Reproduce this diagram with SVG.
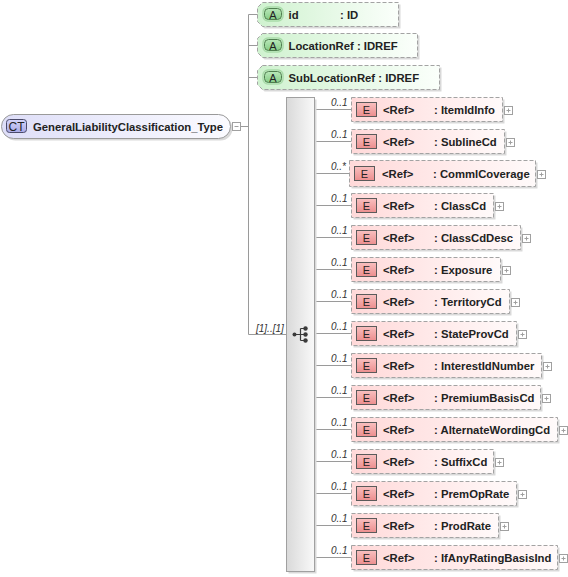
<svg xmlns="http://www.w3.org/2000/svg" width="568" height="577" viewBox="0 0 568 577">
<defs>
<linearGradient id="gE" x1="0" y1="0" x2="1" y2="0"><stop offset="0" stop-color="#ffd9d9"/><stop offset="1" stop-color="#fffafa"/></linearGradient>
<linearGradient id="gEb" x1="0" y1="0" x2="0" y2="1"><stop offset="0" stop-color="#f9c0c0"/><stop offset="1" stop-color="#ec8e8e"/></linearGradient>
<linearGradient id="gA" x1="0" y1="0" x2="1" y2="0"><stop offset="0" stop-color="#cff2cf"/><stop offset="1" stop-color="#fbfffb"/></linearGradient>
<linearGradient id="gAb" x1="0" y1="0" x2="0" y2="1"><stop offset="0" stop-color="#b9e8b9"/><stop offset="1" stop-color="#86cc86"/></linearGradient>
<linearGradient id="gCT" x1="0" y1="0" x2="1" y2="0"><stop offset="0" stop-color="#dedef8"/><stop offset="1" stop-color="#fbfbff"/></linearGradient>
<linearGradient id="gCTb" x1="0" y1="0" x2="0" y2="1"><stop offset="0" stop-color="#d6d6fa"/><stop offset="1" stop-color="#a9a9e6"/></linearGradient>
<linearGradient id="gS" x1="0" y1="0" x2="1" y2="0"><stop offset="0" stop-color="#d9d9d9"/><stop offset="1" stop-color="#f9f9f9"/></linearGradient>
</defs>
<style>
.ln{fill:none;stroke:#9a9a9a;stroke-width:1}
.sh{fill:#d9d9d9;stroke:none}
.ebox{fill:url(#gE);stroke:#a3a3a3;stroke-width:1;stroke-dasharray:4,2}
.eb{fill:url(#gEb);stroke:#5a5a5a;stroke-width:1}
.abox{fill:url(#gA);stroke:#a3a3a3;stroke-width:1;stroke-dasharray:4,2}
.ab{fill:url(#gAb);stroke:#4f7f4f;stroke-width:1}
.ah{fill:none;stroke:#a9dca9;stroke-width:1.5}
.t{font-family:"Liberation Sans",Arial,sans-serif;font-size:11.3px;font-weight:bold;fill:#222}
.bt{font-family:"Liberation Sans",Arial,sans-serif;font-size:11px;fill:#222}
.m{font-family:"Liberation Sans",Arial,sans-serif;font-size:10px;font-style:italic;fill:#333}
.pl{fill:#fff;stroke:#a0a0a0;stroke-width:1}
.px{fill:none;stroke:#a0a0a0;stroke-width:1}
.ic{fill:#3a3a3a}
.icl{fill:none;stroke:#3a3a3a;stroke-width:1.2}
</style>

<g id="connectors">
<path class="ln" d="M240.5 126.5H248.5M248.5 14.5V334.5M248.5 14.5H258M248.5 45.5H258M248.5 77.5H258M248.5 334.5H286"/>
<path class="ln" d="M315 109.5H351M315 141.5H351M315 173.5H349M315 205.5H351M315 237.5H351M315 269.5H351M315 301.5H351M315 333.5H351M315 365.5H351M315 397.5H351M315 429.5H351M315 461.5H351M315 493.5H351M315 525.5H351M315 557.5H351"/>
<text class="m" x="256" y="331.5">[1]..[1]</text>
<text class="m" x="331" y="105.5">0..1</text>
<text class="m" x="331" y="137.5">0..1</text>
<text class="m" x="331" y="169.5">0..*</text>
<text class="m" x="331" y="201.5">0..1</text>
<text class="m" x="331" y="233.5">0..1</text>
<text class="m" x="331" y="265.5">0..1</text>
<text class="m" x="331" y="297.5">0..1</text>
<text class="m" x="331" y="329.5">0..1</text>
<text class="m" x="331" y="361.5">0..1</text>
<text class="m" x="331" y="393.5">0..1</text>
<text class="m" x="331" y="425.5">0..1</text>
<text class="m" x="331" y="457.5">0..1</text>
<text class="m" x="331" y="489.5">0..1</text>
<text class="m" x="331" y="521.5">0..1</text>
<text class="m" x="331" y="553.5">0..1</text>
</g>

<g id="node-ct">
<rect class="sh" x="3.5" y="116.5" width="229" height="24" rx="12"/>
<rect x="1.5" y="114.5" width="229" height="24" rx="12" fill="url(#gCT)" stroke="#9a9a9a"/>
<rect x="6.5" y="119.5" width="20" height="13" rx="3" fill="url(#gCTb)" stroke="#4a4a6a"/>
<text class="bt" x="16.5" y="130.5" text-anchor="middle" style="font-size:12px">CT</text>
<text class="t" x="33" y="131">GeneralLiabilityClassification_Type</text>
<rect class="pl" x="232.5" y="122.5" width="8" height="8"/>
<path class="px" d="M234.5 126.5H238.5"/>
</g>

<g id="attr-id" transform="translate(0,14.5)">
<path class="sh" d="M264.5 -10H400.5V14H264.5L259.5 9V-5Z"/>
<path class="abox" d="M262.5 -12H398.5V12H262.5L257.5 7V-7Z"/>
<rect class="ah" x="263" y="-7.5" width="20" height="14" rx="5"/>
<rect class="ab" x="264.5" y="-6" width="17" height="11" rx="4"/>
<text class="bt" x="273" y="4" text-anchor="middle">A</text>
<text class="t" x="288.5" y="4">id</text>
<text class="t" x="340" y="4">: ID</text>
</g>
<g id="attr-locationref" transform="translate(0,45.5)">
<path class="sh" d="M264.5 -10H419.5V14H264.5L259.5 9V-5Z"/>
<path class="abox" d="M262.5 -12H417.5V12H262.5L257.5 7V-7Z"/>
<rect class="ah" x="263" y="-7.5" width="20" height="14" rx="5"/>
<rect class="ab" x="264.5" y="-6" width="17" height="11" rx="4"/>
<text class="bt" x="273" y="4" text-anchor="middle">A</text>
<text class="t" x="288.5" y="4">LocationRef : IDREF</text>
</g>
<g id="attr-sublocationref" transform="translate(0,77.5)">
<path class="sh" d="M264.5 -10H441.5V14H264.5L259.5 9V-5Z"/>
<path class="abox" d="M262.5 -12H439.5V12H262.5L257.5 7V-7Z"/>
<rect class="ah" x="263" y="-7.5" width="20" height="14" rx="5"/>
<rect class="ab" x="264.5" y="-6" width="17" height="11" rx="4"/>
<text class="bt" x="273" y="4" text-anchor="middle">A</text>
<text class="t" x="288.5" y="4">SubLocationRef : IDREF</text>
</g>

<g id="sequence">
<rect class="sh" x="288.5" y="99.5" width="28" height="474"/>
<rect x="286.5" y="97.5" width="28" height="474" fill="url(#gS)" stroke="#a0a0a0"/>
<circle class="ic" cx="294.5" cy="334.5" r="2"/>
<path class="icl" d="M294.5 334.5H300.5M300.5 328.5V340.5M300.5 328.5H305M300.5 334.5H305M300.5 340.5H305"/>
<circle class="ic" cx="305.5" cy="328.5" r="2.2"/>
<circle class="ic" cx="305.5" cy="334.5" r="2.2"/>
<circle class="ic" cx="305.5" cy="340.5" r="2.2"/>
</g>

<g id="el-itemidinfo" transform="translate(0,109.5)">
<rect class="sh" x="353.5" y="-10" width="151" height="24"/>
<rect class="ebox" x="351.5" y="-12" width="151" height="24"/>
<rect class="eb" x="356.5" y="-7" width="20" height="14"/>
<text class="bt" x="366.5" y="4" text-anchor="middle">E</text>
<text class="t" x="383" y="4">&lt;Ref&gt;</text>
<text class="t" x="434" y="4">: ItemIdInfo</text>
<rect class="pl" x="504.5" y="-3" width="8" height="8"/><path class="px" d="M506.5 1H510.5M508.5 -1V3"/>
</g>
<g id="el-sublinecd" transform="translate(0,141.5)">
<rect class="sh" x="353.5" y="-10" width="153" height="24"/>
<rect class="ebox" x="351.5" y="-12" width="153" height="24"/>
<rect class="eb" x="356.5" y="-7" width="20" height="14"/>
<text class="bt" x="366.5" y="4" text-anchor="middle">E</text>
<text class="t" x="383" y="4">&lt;Ref&gt;</text>
<text class="t" x="434" y="4">: SublineCd</text>
<rect class="pl" x="506.5" y="-3" width="8" height="8"/><path class="px" d="M508.5 1H512.5M510.5 -1V3"/>
</g>
<g id="el-commlcoverage" transform="translate(0,173.5)">
<rect class="sh" x="351.5" y="-11" width="186" height="26"/>
<rect class="ebox" x="349.5" y="-13" width="186" height="26"/>
<rect class="eb" x="354.5" y="-7" width="20" height="14"/>
<text class="bt" x="364.5" y="4" text-anchor="middle">E</text>
<text class="t" x="382" y="4">&lt;Ref&gt;</text>
<text class="t" x="433" y="4">: CommlCoverage</text>
<rect class="pl" x="537.5" y="-3" width="8" height="8"/><path class="px" d="M539.5 1H543.5M541.5 -1V3"/>
</g>
<g id="el-classcd" transform="translate(0,205.5)">
<rect class="sh" x="353.5" y="-10" width="142" height="24"/>
<rect class="ebox" x="351.5" y="-12" width="142" height="24"/>
<rect class="eb" x="356.5" y="-7" width="20" height="14"/>
<text class="bt" x="366.5" y="4" text-anchor="middle">E</text>
<text class="t" x="383" y="4">&lt;Ref&gt;</text>
<text class="t" x="434" y="4">: ClassCd</text>
<rect class="pl" x="495.5" y="-3" width="8" height="8"/><path class="px" d="M497.5 1H501.5M499.5 -1V3"/>
</g>
<g id="el-classcddesc" transform="translate(0,237.5)">
<rect class="sh" x="353.5" y="-10" width="169" height="24"/>
<rect class="ebox" x="351.5" y="-12" width="169" height="24"/>
<rect class="eb" x="356.5" y="-7" width="20" height="14"/>
<text class="bt" x="366.5" y="4" text-anchor="middle">E</text>
<text class="t" x="383" y="4">&lt;Ref&gt;</text>
<text class="t" x="434" y="4">: ClassCdDesc</text>
<rect class="pl" x="522.5" y="-3" width="8" height="8"/><path class="px" d="M524.5 1H528.5M526.5 -1V3"/>
</g>
<g id="el-exposure" transform="translate(0,269.5)">
<rect class="sh" x="353.5" y="-10" width="149" height="24"/>
<rect class="ebox" x="351.5" y="-12" width="149" height="24"/>
<rect class="eb" x="356.5" y="-7" width="20" height="14"/>
<text class="bt" x="366.5" y="4" text-anchor="middle">E</text>
<text class="t" x="383" y="4">&lt;Ref&gt;</text>
<text class="t" x="434" y="4">: Exposure</text>
<rect class="pl" x="502.5" y="-3" width="8" height="8"/><path class="px" d="M504.5 1H508.5M506.5 -1V3"/>
</g>
<g id="el-territorycd" transform="translate(0,301.5)">
<rect class="sh" x="353.5" y="-10" width="158" height="24"/>
<rect class="ebox" x="351.5" y="-12" width="158" height="24"/>
<rect class="eb" x="356.5" y="-7" width="20" height="14"/>
<text class="bt" x="366.5" y="4" text-anchor="middle">E</text>
<text class="t" x="383" y="4">&lt;Ref&gt;</text>
<text class="t" x="434" y="4">: TerritoryCd</text>
<rect class="pl" x="511.5" y="-3" width="8" height="8"/><path class="px" d="M513.5 1H517.5M515.5 -1V3"/>
</g>
<g id="el-stateprovcd" transform="translate(0,333.5)">
<rect class="sh" x="353.5" y="-10" width="165" height="24"/>
<rect class="ebox" x="351.5" y="-12" width="165" height="24"/>
<rect class="eb" x="356.5" y="-7" width="20" height="14"/>
<text class="bt" x="366.5" y="4" text-anchor="middle">E</text>
<text class="t" x="383" y="4">&lt;Ref&gt;</text>
<text class="t" x="434" y="4">: StateProvCd</text>
<rect class="pl" x="518.5" y="-3" width="8" height="8"/><path class="px" d="M520.5 1H524.5M522.5 -1V3"/>
</g>
<g id="el-interestidnumber" transform="translate(0,365.5)">
<rect class="sh" x="353.5" y="-10" width="190" height="24"/>
<rect class="ebox" x="351.5" y="-12" width="190" height="24"/>
<rect class="eb" x="356.5" y="-7" width="20" height="14"/>
<text class="bt" x="366.5" y="4" text-anchor="middle">E</text>
<text class="t" x="383" y="4">&lt;Ref&gt;</text>
<text class="t" x="434" y="4">: InterestIdNumber</text>
<rect class="pl" x="543.5" y="-3" width="8" height="8"/><path class="px" d="M545.5 1H549.5M547.5 -1V3"/>
</g>
<g id="el-premiumbasiscd" transform="translate(0,397.5)">
<rect class="sh" x="353.5" y="-10" width="189" height="24"/>
<rect class="ebox" x="351.5" y="-12" width="189" height="24"/>
<rect class="eb" x="356.5" y="-7" width="20" height="14"/>
<text class="bt" x="366.5" y="4" text-anchor="middle">E</text>
<text class="t" x="383" y="4">&lt;Ref&gt;</text>
<text class="t" x="434" y="4">: PremiumBasisCd</text>
<rect class="pl" x="542.5" y="-3" width="8" height="8"/><path class="px" d="M544.5 1H548.5M546.5 -1V3"/>
</g>
<g id="el-alternatewordingcd" transform="translate(0,429.5)">
<rect class="sh" x="353.5" y="-10" width="206" height="24"/>
<rect class="ebox" x="351.5" y="-12" width="206" height="24"/>
<rect class="eb" x="356.5" y="-7" width="20" height="14"/>
<text class="bt" x="366.5" y="4" text-anchor="middle">E</text>
<text class="t" x="383" y="4">&lt;Ref&gt;</text>
<text class="t" x="434" y="4">: AlternateWordingCd</text>
<rect class="pl" x="559.5" y="-3" width="8" height="8"/><path class="px" d="M561.5 1H565.5M563.5 -1V3"/>
</g>
<g id="el-suffixcd" transform="translate(0,461.5)">
<rect class="sh" x="353.5" y="-10" width="142" height="24"/>
<rect class="ebox" x="351.5" y="-12" width="142" height="24"/>
<rect class="eb" x="356.5" y="-7" width="20" height="14"/>
<text class="bt" x="366.5" y="4" text-anchor="middle">E</text>
<text class="t" x="383" y="4">&lt;Ref&gt;</text>
<text class="t" x="434" y="4">: SuffixCd</text>
<rect class="pl" x="495.5" y="-3" width="8" height="8"/><path class="px" d="M497.5 1H501.5M499.5 -1V3"/>
</g>
<g id="el-premoprate" transform="translate(0,493.5)">
<rect class="sh" x="353.5" y="-10" width="165" height="24"/>
<rect class="ebox" x="351.5" y="-12" width="165" height="24"/>
<rect class="eb" x="356.5" y="-7" width="20" height="14"/>
<text class="bt" x="366.5" y="4" text-anchor="middle">E</text>
<text class="t" x="383" y="4">&lt;Ref&gt;</text>
<text class="t" x="434" y="4">: PremOpRate</text>
<rect class="pl" x="518.5" y="-3" width="8" height="8"/><path class="px" d="M520.5 1H524.5M522.5 -1V3"/>
</g>
<g id="el-prodrate" transform="translate(0,525.5)">
<rect class="sh" x="353.5" y="-10" width="147" height="24"/>
<rect class="ebox" x="351.5" y="-12" width="147" height="24"/>
<rect class="eb" x="356.5" y="-7" width="20" height="14"/>
<text class="bt" x="366.5" y="4" text-anchor="middle">E</text>
<text class="t" x="383" y="4">&lt;Ref&gt;</text>
<text class="t" x="434" y="4">: ProdRate</text>
<rect class="pl" x="500.5" y="-3" width="8" height="8"/><path class="px" d="M502.5 1H506.5M504.5 -1V3"/>
</g>
<g id="el-ifanyratingbasisind" transform="translate(0,557.5)">
<rect class="sh" x="353.5" y="-10" width="206" height="24"/>
<rect class="ebox" x="351.5" y="-12" width="206" height="24"/>
<rect class="eb" x="356.5" y="-7" width="20" height="14"/>
<text class="bt" x="366.5" y="4" text-anchor="middle">E</text>
<text class="t" x="383" y="4">&lt;Ref&gt;</text>
<text class="t" x="434" y="4">: IfAnyRatingBasisInd</text>
<rect class="pl" x="559.5" y="-3" width="8" height="8"/><path class="px" d="M561.5 1H565.5M563.5 -1V3"/>
</g>
</svg>
